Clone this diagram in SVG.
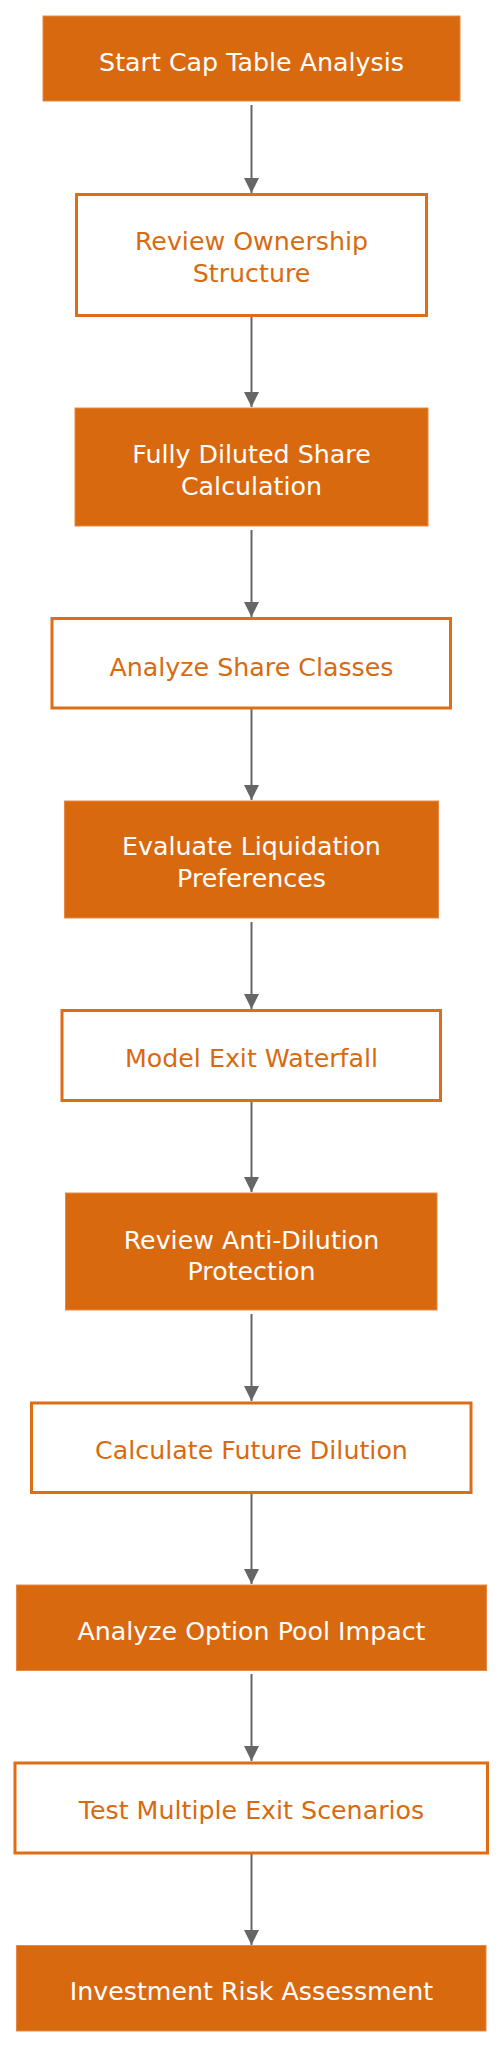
<svg xmlns="http://www.w3.org/2000/svg" width="503" height="2048" viewBox="0 0 503 2048">
<defs>
<style>
.f rect{fill:#D9690F;stroke:#E58A45;stroke-width:1}
.o rect{fill:#FFFFFF;stroke:#DE6D16;stroke-width:3}
text{font-family:"DejaVu Sans","Open Sans",sans-serif;font-size:25.3px;text-anchor:middle}
.f text{fill:#FFFFFF}
.o text{fill:#D86A10}
.edges line{stroke:#666666;stroke-width:2}
</style>
<marker id="arr" viewBox="0 0 10 10" refX="10" refY="5" markerWidth="7.5" markerHeight="7.5" markerUnits="strokeWidth" orient="auto">
<path d="M0,0 L10,5 L0,10 z" fill="#666666"/>
</marker>
</defs>
<rect width="503" height="2048" fill="#FFFFFF"/>
<g class="edges">
<line x1="251.5" y1="105" x2="251.5" y2="193" marker-end="url(#arr)"/>
<line x1="251.5" y1="317" x2="251.5" y2="407" marker-end="url(#arr)"/>
<line x1="251.5" y1="530" x2="251.5" y2="617" marker-end="url(#arr)"/>
<line x1="251.5" y1="709" x2="251.5" y2="800" marker-end="url(#arr)"/>
<line x1="251.5" y1="922" x2="251.5" y2="1009" marker-end="url(#arr)"/>
<line x1="251.5" y1="1102" x2="251.5" y2="1192" marker-end="url(#arr)"/>
<line x1="251.5" y1="1314" x2="251.5" y2="1401" marker-end="url(#arr)"/>
<line x1="251.5" y1="1494" x2="251.5" y2="1584" marker-end="url(#arr)"/>
<line x1="251.5" y1="1674" x2="251.5" y2="1761" marker-end="url(#arr)"/>
<line x1="251.5" y1="1854" x2="251.5" y2="1945" marker-end="url(#arr)"/>
</g>
<g id="n1" class="f"><rect x="43" y="16" width="417" height="85"/><text x="251.5" y="70.5">Start Cap Table Analysis</text></g>
<g id="n2" class="o"><rect x="76.5" y="194.5" width="350" height="121"/><text x="251.5" y="250">Review Ownership<tspan x="251.5" dy="32">Structure</tspan></text></g>
<g id="n3" class="f"><rect x="75" y="408" width="353" height="118"/><text x="251.5" y="463">Fully Diluted Share<tspan x="251.5" dy="31.5">Calculation</tspan></text></g>
<g id="n4" class="o"><rect x="52" y="618.5" width="398.5" height="89.5"/><text x="251.5" y="676">Analyze Share Classes</text></g>
<g id="n5" class="f"><rect x="64.5" y="801" width="374" height="117"/><text x="251.5" y="855">Evaluate Liquidation<tspan x="251.5" dy="31.5">Preferences</tspan></text></g>
<g id="n6" class="o"><rect x="62" y="1010.5" width="378.5" height="90"/><text x="251.5" y="1066.5">Model Exit Waterfall</text></g>
<g id="n7" class="f"><rect x="65.5" y="1193" width="371.5" height="117"/><text x="251.5" y="1248.5">Review Anti-Dilution<tspan x="251.5" dy="31">Protection</tspan></text></g>
<g id="n8" class="o"><rect x="31.5" y="1403" width="439.5" height="89.5"/><text x="251.5" y="1458.5">Calculate Future Dilution</text></g>
<g id="n9" class="f"><rect x="16.5" y="1585" width="470" height="85.5"/><text x="251.5" y="1639.5">Analyze Option Pool Impact</text></g>
<g id="n10" class="o"><rect x="15" y="1763" width="472.5" height="90"/><text x="251.5" y="1818.5">Test Multiple Exit Scenarios</text></g>
<g id="n11" class="f"><rect x="16.5" y="1945.5" width="469.5" height="85.5"/><text x="251.5" y="1999.5">Investment Risk Assessment</text></g>
</svg>
